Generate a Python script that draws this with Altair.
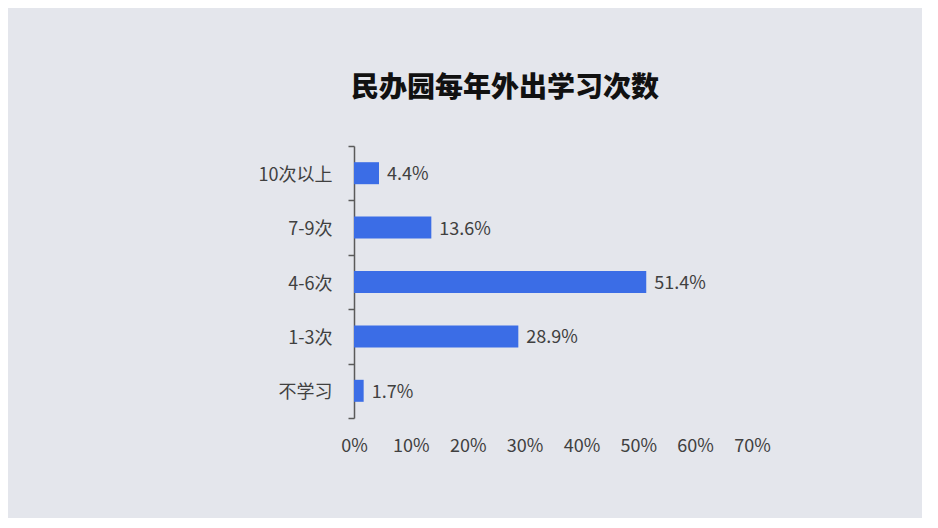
import altair as alt
import pandas as pd

categories = ["10次以上", "7-9次", "4-6次", "1-3次", "不学习"]
values = [4.4, 13.6, 51.4, 28.9, 1.7]
x_ticks = [0, 10, 20, 30, 40, 50, 60, 70]

df = pd.DataFrame({"cat": categories, "val": values})
df["label"] = [f"{v}%" for v in values]

FONT = "Noto Sans CJK SC"
BAR = "#3b6de6"
TXT = "#404040"
FS = 18

y_enc = alt.Y(
    "cat:N",
    sort=categories,
    title=None,
    scale=alt.Scale(paddingInner=0, paddingOuter=0),
    axis=alt.Axis(
        tickBand="extent",
        domainColor="#5a5a5a",
        domainWidth=1.5,
        tickColor="#5a5a5a",
        tickWidth=1.5,
        tickSize=6,
        labelPadding=16,
        labelOffset=2,
        labelFont=FONT,
        labelFontSize=FS,
        labelColor=TXT,
        grid=False,
    ),
)

x_enc = alt.X(
    "val:Q",
    title=None,
    scale=alt.Scale(domain=[0, 70], nice=False),
    axis=alt.Axis(
        values=x_ticks,
        labelExpr="datum.value + '%'",
        labelFlush=False,
        labelOverlap=False,
        domain=False,
        ticks=False,
        grid=False,
        labelPadding=19,
        labelFont=FONT,
        labelFontSize=FS,
        labelColor=TXT,
    ),
)

bars = alt.Chart(df).mark_bar(color=BAR, size=22).encode(x=x_enc, y=y_enc)

labels = alt.Chart(df).mark_text(
    align="left", baseline="middle", dx=8, dy=2, font=FONT, fontSize=FS, color=TXT
).encode(x="val:Q", y=alt.Y("cat:N", sort=categories), text="label:N")

chart = (
    alt.layer(bars, labels)
    .properties(
        width=398,
        height=272,
        autosize=alt.AutoSizeParams(type="none"),
        padding={"left": 346, "top": 138, "right": 170, "bottom": 100},
        background="#e4e6ec",
        title=alt.Title(
            "民办园每年外出学习次数",
            font=FONT,
            fontSize=28,
            fontWeight=900,
            color="#111111",
            anchor="middle",
            dx=-48,
            offset=34,
        ),
    )
    .configure_view(stroke=None)
)

chart.save("out.html", embed_options={"renderer": "svg", "actions": False})
